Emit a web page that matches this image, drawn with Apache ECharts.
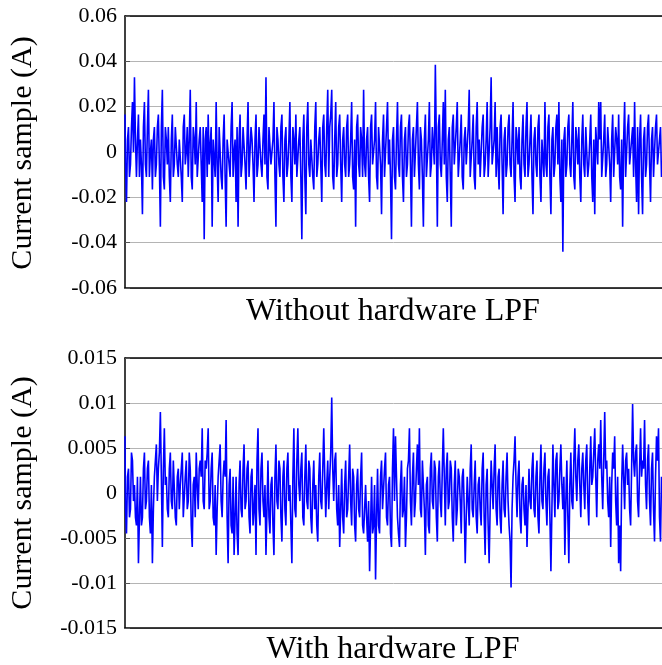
<!DOCTYPE html>
<html><head><meta charset="utf-8">
<script src="https://cdn.jsdelivr.net/npm/echarts@6/dist/echarts.min.js"></script>
<style>html,body{margin:0;padding:0;background:#fff}#c{width:662px;height:665px}</style>
</head><body><div id="c"></div>
<script>
const topTicks = ['-0.06','-0.04','-0.02','0','0.02','0.04','0.06'];
const bottomTicks = ['-0.015','-0.01','-0.005','0','0.005','0.01','0.015'];
const topTitle = 'Without hardware LPF';
const bottomTitle = 'With hardware LPF';
const yName = 'Current sample (A)';

const withoutLPF = [
0.0165,-0.0055,-0.022,0.0055,0.011,-0.011,-0.0055,0.011,0.022,0,0.033,0.0055,-0.011,0.0055,0.0165,-0.011,0.0055,-0.0055,-0.0275,0.011,
0.022,-0.0055,-0.011,0.011,0.0275,-0.011,0,0.0055,-0.0165,0.0055,0.011,-0.011,-0.0055,0.011,0.0165,-0.0055,-0.033,0.011,0.0275,-0.011,
-0.0165,0.011,0.0055,-0.0055,0.011,-0.011,-0.022,0.0055,0.0165,-0.011,-0.0055,0.011,0.011,-0.0055,-0.011,0.0055,0.0055,-0.011,-0.022,0.011,
0.0165,-0.0055,0,0.011,-0.011,0.0055,0.0275,-0.011,-0.0165,0.011,0.0055,-0.0055,0.022,-0.011,-0.011,0.0055,0.011,-0.0055,-0.022,0.011,
-0.0385,0.0055,0.011,-0.011,0.0165,-0.0055,-0.0055,0.011,-0.033,0.0055,0.0055,-0.011,0.022,-0.0055,-0.022,0.011,0.011,-0.011,-0.0165,0.0055,
0.0165,-0.011,-0.033,0.0055,0.0055,-0.0055,-0.011,0.011,0.022,-0.011,0,0.0055,-0.022,0.011,-0.033,0.0055,0.0165,-0.011,-0.0055,0.011,
0.011,-0.0055,-0.0165,0.0055,0.022,-0.011,-0.011,0.011,0.0055,-0.0055,-0.022,0.0055,0.0165,-0.011,-0.0055,0.011,0.011,-0.0055,-0.011,0.0055,
0.0165,-0.0055,0.033,-0.011,-0.0165,0.011,0.011,-0.0055,-0.0055,0.0055,0.022,-0.011,-0.033,0.011,0.0055,-0.0055,-0.011,0.011,0.0165,-0.011,
-0.022,0.0055,0.011,-0.011,-0.0055,0.0055,0.022,-0.011,-0.022,0.011,0.0055,-0.0055,0.0165,-0.011,-0.011,0.0055,0.011,-0.011,-0.0385,0.0055,
0.0165,-0.011,-0.0275,0.011,0.022,-0.0055,-0.011,0.0055,0.0055,-0.011,-0.0165,0.011,0.022,-0.011,-0.0055,0.0055,0.011,-0.0055,-0.022,0.011,
0.0165,-0.0055,-0.011,0.011,0.0275,-0.011,0.011,0.0165,0.0275,-0.011,-0.0165,0.0055,0.022,-0.011,-0.0055,0.011,0.0165,-0.0055,-0.022,0.0055,
0.011,-0.0055,-0.011,0.011,0.0165,-0.011,-0.0055,0.0055,0.022,-0.011,-0.0165,0.0055,-0.033,0.011,0.0165,-0.0055,-0.011,0.011,0.0055,-0.011,
0.0275,-0.0055,-0.011,0.0055,0.011,-0.011,-0.022,0.011,0.0165,-0.0055,-0.0055,0.0055,0.022,-0.011,-0.0165,0.011,0.011,-0.0055,-0.0275,0.0055,
0.0165,-0.011,-0.011,0.011,0.022,-0.0055,0.0055,-0.011,-0.0385,0.0055,0.011,-0.011,-0.0165,0.0055,0.022,-0.0055,-0.011,0.011,0.0165,-0.011,
-0.022,0.0055,0.011,-0.011,-0.0055,0.011,0.0165,-0.0055,-0.033,0.0055,0.011,-0.011,-0.011,0.011,0.022,-0.0055,-0.0165,0.011,0.0055,-0.011,
-0.033,0.0055,0.0165,-0.011,-0.011,0.0055,0.022,-0.011,-0.0055,0.011,0.011,-0.0055,0.0385,0.0055,-0.033,0.011,0.0165,-0.0055,-0.011,0.0055,
0.022,-0.0055,0.0275,-0.011,-0.022,0.0055,0.011,-0.011,-0.033,0.011,0.0165,-0.0055,-0.0055,0.011,0.022,-0.011,-0.011,0.0055,0.0165,-0.011,
-0.0165,0.0055,0.011,-0.0055,-0.0055,0.011,0.0275,-0.011,-0.011,0.0055,0.0165,-0.011,-0.0165,0.011,0.022,-0.0055,0.0055,-0.011,-0.011,0.011,
0.0165,-0.011,-0.0055,0.0055,0.022,-0.011,-0.011,0.011,0.033,-0.0055,-0.0055,0.0055,0.022,-0.011,0.011,-0.0055,-0.0165,0.011,0.0165,-0.0055,
-0.0275,0.0055,0.011,-0.011,-0.0055,0.011,0.0165,-0.0055,-0.011,0.0055,0.022,-0.011,-0.022,0.011,0.0055,-0.0055,0.011,-0.011,-0.0165,0.0055,
0.0165,-0.0055,-0.011,0.011,0.022,-0.011,-0.0055,0.0055,0.0165,-0.011,-0.0275,0.0055,0.011,-0.0055,-0.011,0.011,0.0165,-0.011,-0.022,0.0055,
0.0055,-0.011,0.022,-0.0055,-0.011,0.011,0.0165,-0.011,-0.0275,0.0055,0.011,-0.011,-0.0055,0.011,0.0165,-0.0055,0.022,-0.011,-0.022,0.0055,
-0.044,0.0055,0.011,-0.011,-0.0055,0.011,0.0165,-0.0055,-0.011,0.0055,0.022,-0.011,-0.0165,0.011,0.0055,-0.0055,0.011,-0.011,-0.022,0.0055,
0.0165,-0.0055,-0.011,0.011,0.011,-0.011,-0.0055,0.0055,0.0165,-0.011,-0.022,0.0055,-0.0275,0.011,0.011,-0.0055,0.022,0.0055,0.022,-0.011,
-0.011,0.0055,0.0165,-0.011,-0.0055,0.011,0.011,-0.0055,-0.022,0.0055,0.0165,-0.011,-0.011,0.011,0.0055,-0.0055,0.0165,-0.011,-0.0165,0.0055,
-0.033,0.0055,0.022,-0.011,-0.011,0.011,0.0165,-0.0055,-0.0055,0.0055,0.011,-0.011,0.022,-0.0055,-0.022,0.011,-0.0275,0.0055,0.0165,-0.011,
-0.0275,0.0055,0.011,-0.011,-0.0055,0.011,0.0165,-0.0055,-0.022,0.0055,0.011,-0.011,-0.011,0.011,0.0165,-0.0055,-0.0055,0.0055,0.011,-0.011
];

const withLPF = [
0.0063,-0.0018,-0.0045,0.0018,0.0027,-0.0027,-0.0018,0.0045,0.0036,-0.0009,0.0009,-0.0027,-0.0036,0.0018,-0.0078,-0.0027,0.0018,-0.0036,-0.0027,0.0027,
0.0045,-0.0018,-0.0009,0.0027,0.0036,-0.0027,-0.0045,0.0009,-0.0078,-0.0018,0.0018,0.0036,0.0054,-0.0009,0.0027,0.0045,0.009,0.0018,-0.006,0.0027,
0.0072,0.0009,0.0018,-0.0018,-0.0027,0.0027,0.0045,-0.0009,-0.0018,0.0036,0.0036,-0.0027,-0.0036,0.0018,0.0027,-0.0018,0.0009,0.0027,0.0045,-0.0027,
-0.0027,0.0018,0.0036,-0.0018,-0.0009,0.0045,0.0027,-0.0036,-0.006,0.0009,0.0018,-0.0027,0.0045,0.0009,-0.0018,0.0027,0.0036,0.0018,0.0072,-0.0009,
-0.0018,0.0036,0.0027,0.0045,0.0072,-0.0018,-0.0009,0.0027,0.0045,-0.0027,-0.0036,0.0009,-0.0069,-0.0018,0.0018,0.0036,0.0054,-0.0009,-0.0027,0.0018,
0.0036,0.0018,0.0081,-0.0027,-0.0078,0.0009,0.0027,-0.0036,-0.0045,0.0018,-0.0069,-0.0027,0.0018,-0.0045,-0.0069,0.0009,0.0036,-0.0018,-0.0027,0.0027,
0.0054,-0.0018,-0.0009,0.0027,0.0036,-0.0027,-0.0045,0.0018,0.0027,-0.0036,-0.0018,0.0009,-0.0069,0.0036,0.0072,-0.0018,-0.0036,0.0027,0.0045,-0.0009,
-0.0027,0.0009,-0.0069,-0.0018,0.0036,-0.0027,-0.0045,0.0009,0.0018,-0.0036,-0.0069,0.0018,0.0054,-0.0009,-0.0018,0.0036,0.0027,-0.0027,-0.0054,0.0018,
0.0036,-0.0018,-0.0036,0.0027,0.0045,-0.0009,0.0009,-0.0036,-0.0078,0.0018,0.0072,-0.0018,-0.0027,0.0036,0.0072,0.0009,-0.0009,0.0027,0.0045,-0.0027,
-0.0036,0.0018,0.0054,-0.0009,-0.0018,0.0036,0.0027,-0.0027,-0.0045,0.0009,0.0036,-0.0018,0.0009,-0.0036,-0.0054,0.0018,0.0045,-0.0009,-0.0018,0.0027,
0.0072,0.0018,-0.0027,0.0009,0.0036,-0.0018,0.0018,0.0045,0.0106,0.0027,-0.0009,0.0036,0.0045,-0.0018,-0.0036,0.0009,-0.006,-0.0018,0.0027,-0.0027,
-0.0045,0.0009,0.0036,-0.0027,-0.0018,0.0018,0.0054,-0.0009,-0.0036,0.0027,0.0018,-0.0036,-0.0054,0.0009,0.0027,-0.0018,-0.0027,0.0018,0.0045,-0.0036,
-0.0045,-0.0018,0.0009,-0.0027,-0.0054,-0.0009,-0.0087,-0.0036,0.0018,-0.0045,-0.0036,0.0009,-0.0096,-0.0027,0.0027,-0.0036,-0.0045,0.0018,0.0036,-0.0018,
-0.0018,0.0027,0.0045,-0.0027,-0.0036,0.0009,0.0018,-0.0045,-0.006,0.0027,0.0072,-0.0009,0.0063,0.0018,-0.0027,-0.0045,-0.006,0.0009,0.0036,-0.0027,
-0.0018,0.0018,-0.006,-0.0027,0.0027,0.0036,0.0072,-0.0009,-0.0036,0.0018,0.0045,-0.0027,-0.0009,0.0027,0.0054,0.0009,0.0072,-0.0018,-0.0027,0.0036,
0.0036,-0.0018,-0.0069,0.0009,0.0018,-0.0036,-0.0045,0.0027,0.0045,-0.0009,-0.0018,0.0036,0.0027,-0.0027,-0.0054,0.0018,0.0036,-0.0009,-0.0027,0.0027,
0.0072,0.0018,-0.0036,0.0027,0.0045,-0.0018,-0.0009,0.0036,0.0027,-0.0027,-0.0054,0.0009,0.0036,-0.0036,-0.0018,0.0027,0.0018,-0.0009,-0.0045,0.0018,
0.0027,-0.0018,-0.0078,-0.0027,0.0018,-0.0009,-0.0036,0.0027,0.0054,-0.0018,-0.0027,0.0009,0.0036,-0.0027,-0.0045,0.0009,0.0018,-0.0018,-0.0036,0.0027,
0.0045,-0.0027,-0.0069,0.0009,0.0027,-0.0036,-0.0078,-0.0018,0.0036,0.0009,-0.0018,0.0027,0.0054,-0.0018,-0.0036,0.0018,0.0027,-0.0027,-0.0045,0.0009,
0.0036,-0.0018,-0.0027,0.0018,0.0045,-0.0009,-0.0036,-0.0054,-0.0105,-0.0018,0.0018,0.0036,0.0063,0.0009,-0.0027,0.0018,0.0036,-0.0027,-0.0045,0.0009,
0.0018,-0.0018,-0.0036,0.0009,-0.006,-0.0018,0.0027,-0.0009,-0.0018,0.0027,0.0045,-0.0018,-0.0027,0.0018,0.0036,-0.0027,-0.0045,0.0018,0.0054,-0.0009,
-0.0018,0.0027,0.0045,-0.0009,-0.0036,0.0018,0.0027,-0.0027,-0.0087,-0.0018,0.0054,0.0009,-0.0027,0.0036,0.0045,-0.0018,-0.0009,0.0027,0.0054,0.0009,
-0.0018,0.0018,-0.0069,-0.0009,0.0036,-0.0027,-0.0078,0.0009,0.0045,-0.0009,-0.0018,0.0036,0.0072,0.0018,-0.0009,0.0036,0.0054,0.0009,-0.0027,0.0027,
0.0045,0.0009,-0.0018,0.0036,0.0054,-0.0009,-0.0036,0.0027,0.0063,0.0009,0.0018,0.0045,0.0072,0.0018,-0.0027,0.0036,0.0054,0.0027,0.0081,0.0018,
-0.0018,0.0036,0.009,0.0027,0.0036,-0.0009,-0.0027,0.0018,-0.006,0.0009,0.0045,0.0027,0.0063,-0.0009,-0.0036,0.0018,-0.0078,-0.0036,-0.0087,0.0009,
0.0054,0.0018,-0.0018,0.0036,0.0045,0.0009,0.0027,-0.0018,-0.0036,0.0027,0.0099,0.0036,0.0018,0.0045,0.0054,-0.0009,-0.0027,0.0027,0.0072,0.0018,
0.0036,0.0027,0.0081,0.0009,-0.0018,0.0036,0.0054,-0.0009,-0.0036,0.0027,0.0045,-0.0018,-0.0054,0.0018,0.0063,0.0036,0.0072,-0.0027,-0.0054,0.0018
];

const samplesTop = withoutLPF.map((_, i) => i);
const samplesBottom = withLPF.map((_, i) => i);

const FONT = 'Liberation Serif, Times New Roman, serif';
const grids = [
  {left: 125, right: 0, top: 16, height: 272},
  {left: 125, right: 0, top: 358, height: 270}
];

function xAxes(gi, cats) {
  return [
    {type: 'category', gridIndex: gi, data: cats, boundaryGap: false,
     axisLine: {onZero: false, lineStyle: {color: '#000', width: 1.5}}, axisTick: {show: false},
     axisLabel: {show: false}, splitLine: {show: false}},
    {type: 'category', gridIndex: gi, position: 'top', data: cats, boundaryGap: false,
     axisLine: {onZero: false, lineStyle: {color: '#000', width: 1.5}}, axisTick: {show: false},
     axisLabel: {show: false}, splitLine: {show: false}}
  ];
}
function yAxis(gi, min, max, interval, ticks) {
  return {type: 'value', gridIndex: gi, min: min, max: max, interval: interval,
    axisLine: {show: true, onZero: false, lineStyle: {color: '#000', width: 1.5}},
    axisTick: {show: true, inside: true, length: 5, lineStyle: {color: '#555'}},
    splitLine: {show: true, lineStyle: {color: '#b4b4b4', width: 1}},
    axisLabel: {fontFamily: FONT, fontSize: 22, color: '#000', margin: 8,
      formatter: v => ticks[Math.round((v - min) / interval)]}
  };
}

const chart = echarts.init(document.getElementById('c'), null, {renderer: 'canvas'});
chart.setOption({
  animation: false,
  backgroundColor: '#fff',
  grid: grids,
  xAxis: [...xAxes(0, samplesTop), ...xAxes(1, samplesBottom)],
  yAxis: [yAxis(0, -0.06, 0.06, 0.02, topTicks), yAxis(1, -0.015, 0.015, 0.005, bottomTicks)],
  series: [
    {type: 'line', xAxisIndex: 0, yAxisIndex: 0, data: withoutLPF, showSymbol: false, sampling: 'none', step: 'middle',
     lineStyle: {color: '#0000ff', width: 1.6}},
    {type: 'line', xAxisIndex: 2, yAxisIndex: 1, data: withLPF, showSymbol: false, sampling: 'none', step: 'middle',
     lineStyle: {color: '#0000ff', width: 1.6}}
  ],
  graphic: [
    {type: 'text', x: 393, y: 312, style: {text: topTitle, font: '32px ' + FONT, fill: '#000', textAlign: 'center', textVerticalAlign: 'middle'}},
    {type: 'text', x: 393, y: 650, style: {text: bottomTitle, font: '32px ' + FONT, fill: '#000', textAlign: 'center', textVerticalAlign: 'middle'}},
    {type: 'text', x: 23, y: 153, rotation: Math.PI / 2, style: {text: yName, font: '30px ' + FONT, fill: '#000', textAlign: 'center', textVerticalAlign: 'middle'}},
    {type: 'text', x: 23, y: 493, rotation: Math.PI / 2, style: {text: yName, font: '30px ' + FONT, fill: '#000', textAlign: 'center', textVerticalAlign: 'middle'}}
  ]
});
</script></body></html>
